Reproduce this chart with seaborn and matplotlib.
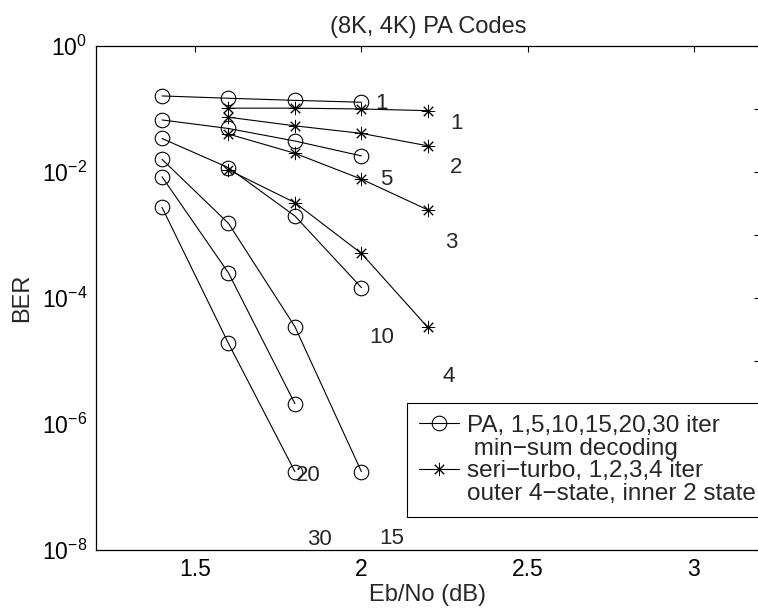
import seaborn as sns
import matplotlib.pyplot as plt
import pandas as pd
from matplotlib.lines import Line2D

# PA codes, min-sum decoding (circles)
pa_ebno = [1.4, 1.6, 1.8, 2.0]
pa_1 = [0.161, 0.148, 0.137, 0.128]
pa_5 = [0.067, 0.049, 0.031, 0.018]
pa_10 = [0.034, 0.0117, 0.0020, 1.46e-4]
pa_15 = [0.0159, 1.53e-3, 3.5e-5, 1.75e-7]
pa_20 = [0.0084, 2.5e-4, 2.1e-6]
pa_30 = [0.00275, 1.9e-5, 1.75e-7]

# serial turbo (stars)
turbo_ebno = [1.6, 1.8, 2.0, 2.2]
turbo_1 = [0.103, 0.103, 0.100, 0.094]
turbo_2 = [0.074, 0.054, 0.041, 0.026]
turbo_3 = [0.040, 0.0198, 0.0077, 0.0025]
turbo_4 = [0.0108, 0.00326, 5.1e-4, 3.4e-5]

# iteration labels scattered on the plot
label_text = ["1", "1", "2", "5", "3", "10", "4", "20", "30", "15"]
label_x = [2.06, 2.286, 2.286, 2.075, 2.27, 2.06, 2.264, 1.84, 1.875, 2.09]
label_y = [0.12, 0.059, 0.0119, 0.0075, 7.5e-4, 2.4e-5, 5.6e-6, 1.5e-7, 1.48e-8, 1.53e-8]

rows = []
for it, vals in zip([1, 5, 10, 15, 20, 30], [pa_1, pa_5, pa_10, pa_15, pa_20, pa_30]):
    for x, y in zip(pa_ebno, vals):
        rows.append(("PA", it, x, y))
for it, vals in zip([1, 2, 3, 4], [turbo_1, turbo_2, turbo_3, turbo_4]):
    for x, y in zip(turbo_ebno, vals):
        rows.append(("turbo", it, x, y))
df = pd.DataFrame(rows, columns=["code", "iter", "ebno", "ber"])

sns.set_style("white")
plt.rcParams["font.family"] = ["Liberation Sans", "DejaVu Sans"]
plt.rcParams["mathtext.default"] = "regular"

fig = plt.figure(figsize=(7.58, 6.13), dpi=100)
ax = fig.add_axes([0.126, 0.1028, 0.877, 0.8222])
ax.set_yscale("log")

star = (8, 2, 0)
for (code, it), grp in df.groupby(["code", "iter"]):
    if code == "PA":
        sns.lineplot(data=grp, x="ebno", y="ber", ax=ax, color="k", lw=0.8,
                     marker="o", markersize=10.5, fillstyle="none", mew=0.8, mec="k",
                     estimator=None, legend=False)
    else:
        sns.lineplot(data=grp, x="ebno", y="ber", ax=ax, color="k", lw=0.8,
                     marker=star, markersize=9.5, mew=0.7, mec="k",
                     estimator=None, legend=False)

for t, x, y in zip(label_text, label_x, label_y):
    ax.text(x, y, t, ha="center", va="center", fontsize=16)

ax.set_xlim(1.2, 3.2)
ax.set_ylim(1e-8, 1e0)
ax.set_xticks([1.5, 2, 2.5, 3])
ax.set_xticklabels(["1.5", "2", "2.5", "3"])
decades = [10.0 ** k for k in range(-8, 1)]
ax.set_yticks(decades)
ax.set_yticklabels([r"$10^{%d}$" % k if k % 2 == 0 else "" for k in range(-8, 1)])
ax.minorticks_off()
ax.tick_params(direction="in", top=True, right=True, length=4, width=0.8,
               labelsize=16.5, pad=6, colors="k")
for s in ax.spines.values():
    s.set_color("k")
    s.set_linewidth(0.9)

ax.set_title("(8K, 4K) PA Codes", fontsize=17, pad=9)
ax.set_xlabel("Eb/No (dB)", fontsize=17, labelpad=2)
ax.set_ylabel("BER", fontsize=17, labelpad=6)

h_pa = Line2D([], [], color="k", lw=0.8, marker="o", markersize=10.5, fillstyle="none", mew=0.8)
h_tb = Line2D([], [], color="k", lw=0.8, marker=star, markersize=9.5, mew=0.7)
blank = Line2D([], [], linestyle="none")
leg = ax.legend([h_pa, blank, h_tb, blank],
                ["PA, 1,5,10,15,20,30 iter", " min\u2212sum decoding",
                 "seri\u2212turbo, 1,2,3,4 iter", "outer 4\u2212state, inner 2 state"],
                loc="upper left", bbox_to_anchor=(0.468, 0.292), borderaxespad=0,
                fontsize=17.5, handlelength=1.65, handletextpad=0.34, labelspacing=0.03,
                fancybox=False, framealpha=1, edgecolor="k", borderpad=0.5)
leg.get_frame().set_linewidth(0.8)

fig.savefig("out.png", dpi=100)
